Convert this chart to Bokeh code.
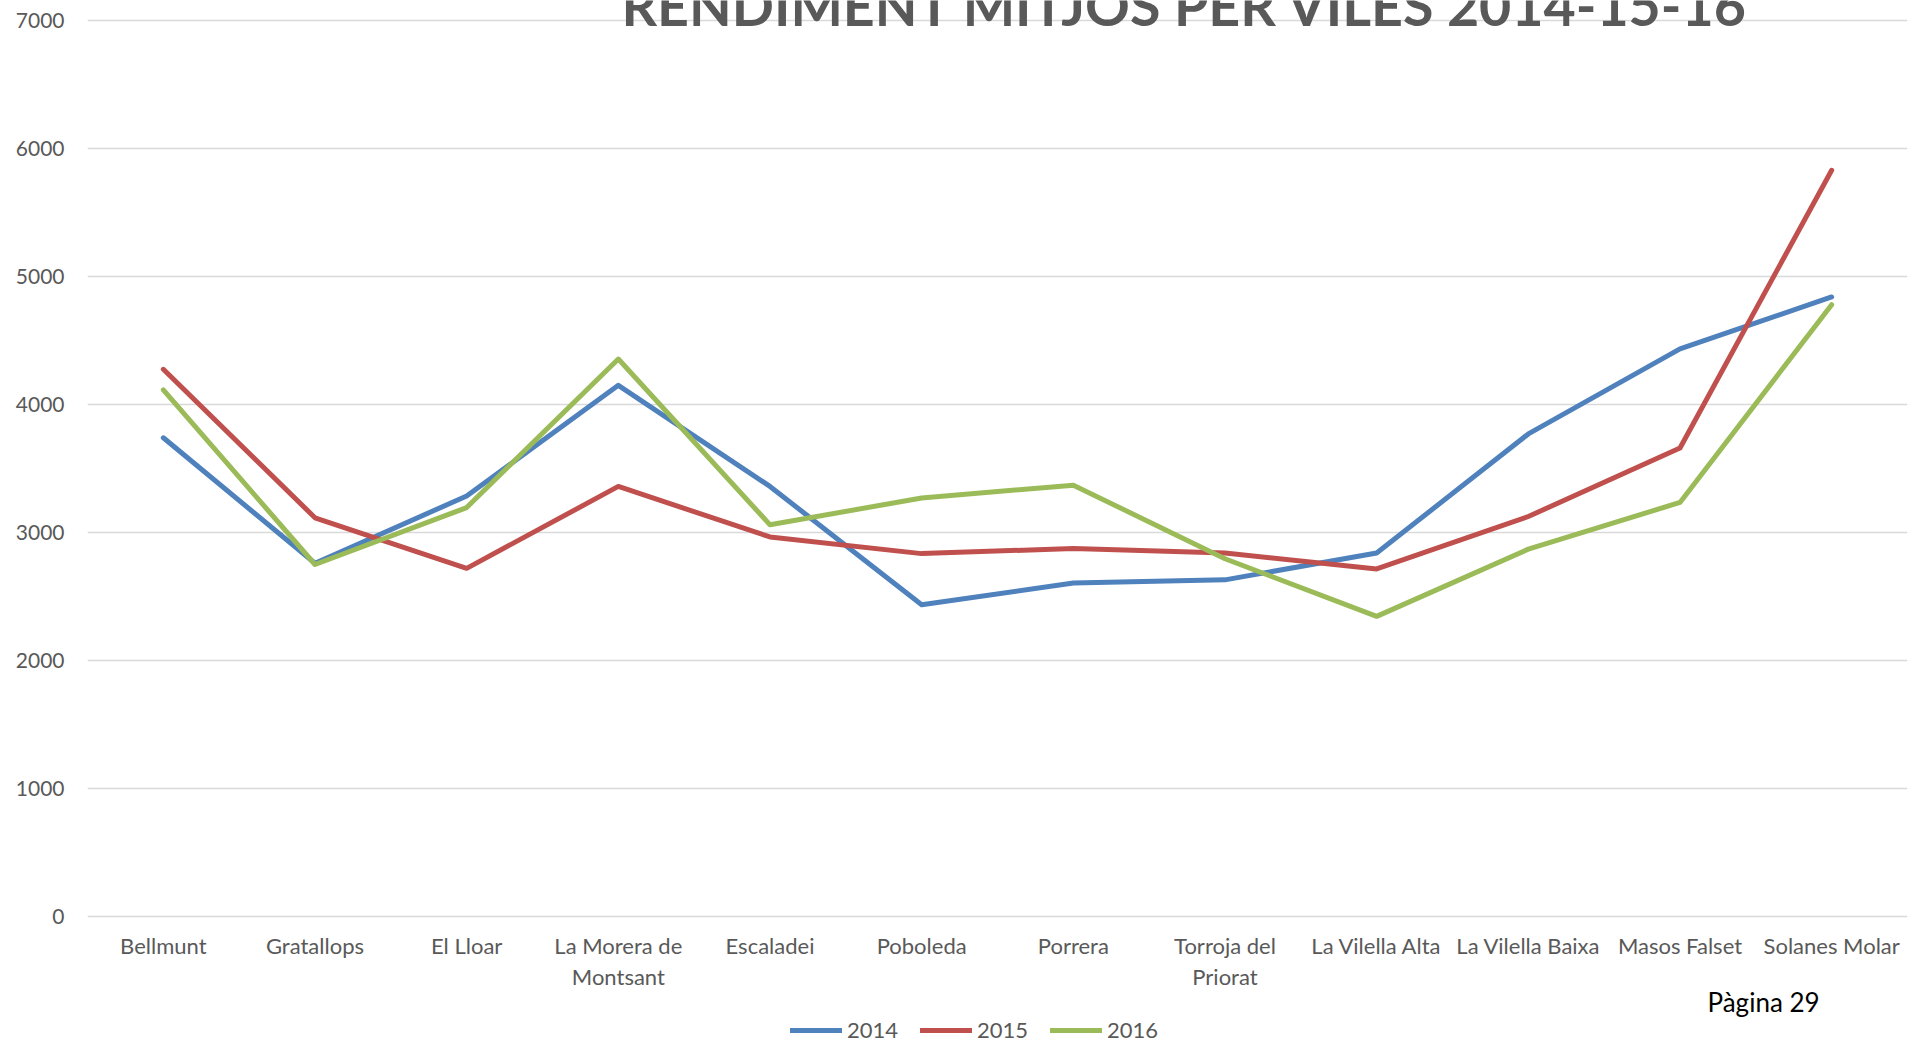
from bokeh.plotting import figure
from bokeh.models import Range1d, FactorRange, FixedTicker, Legend, LegendItem
from bokeh.core.properties import value
from bokeh.embed import file_html
from bokeh.resources import INLINE

# ---- data ----
villages = ["Bellmunt", "Gratallops", "El Lloar", "La Morera de\nMontsant", "Escaladei",
            "Poboleda", "Porrera", "Torroja del\nPriorat", "La Vilella Alta",
            "La Vilella Baixa", "Masos Falset", "Solanes Molar"]
y2014 = [3740, 2760, 3285, 4150, 3360, 2435, 2605, 2630, 2840, 3770, 4435, 4840]
y2015 = [4275, 3115, 2720, 3360, 2965, 2835, 2875, 2840, 2715, 3125, 3660, 5830]
y2016 = [4115, 2750, 3195, 4355, 3060, 3270, 3370, 2795, 2345, 2870, 3235, 4780]
series_names = ["2014", "2015", "2016"]
y_ticks = [0, 1000, 2000, 3000, 4000, 5000, 6000, 7000]
title_text = "RENDIMENT MITJOS PER VILES 2014-15-16"
page_text = "Pàgina 29"

colors = ["#4F81BD", "#C0504D", "#9BBB59"]
FONT = "Lato"
GREY = "#595959"

W, H = 1912, 1045
left, right = 87, 5
ZERO_Y = 916                         # page pixel row of the value 0
px_per_unit = 0.128                  # 1000 units = 128 px
y_top = ZERO_Y / px_per_unit
y_bot = -(H - ZERO_Y) / px_per_unit
cat_w = (W - left - right) / len(villages)

p = figure(width=W, height=H, x_range=FactorRange(*villages, range_padding=0),
           y_range=Range1d(y_bot, y_top), output_backend="svg", toolbar_location=None,
           min_border_left=left, min_border_right=right, min_border_top=0,
           min_border_bottom=0)
p.outline_line_color = None
p.background_fill_color = "white"
p.border_fill_color = "white"

p.xgrid.grid_line_color = None
p.ygrid.grid_line_color = "#D9D9D9"
p.ygrid.grid_line_width = 1.3
p.yaxis.ticker = FixedTicker(ticks=y_ticks)
p.xaxis.fixed_location = 0

for ax in (p.xaxis[0], p.yaxis[0]):
    ax.axis_line_color = None
    ax.major_tick_line_color = None
    ax.minor_tick_line_color = None
    ax.major_tick_out = 0
    ax.major_tick_in = 0
    ax.major_label_text_font = FONT
    ax.major_label_text_color = GREY
p.xaxis.major_label_text_font_size = "22px"
p.yaxis.major_label_text_font_size = "21px"
p.yaxis.major_label_standoff = 23
p.xaxis.major_label_standoff = 15
p.xaxis.major_label_text_line_height = 1.18

renderers = []
for name, vals, c in zip(series_names, [y2014, y2015, y2016], colors):
    r = p.line(x=villages, y=vals, line_color=c, line_width=5, line_cap="round",
               line_join="round")
    renderers.append((name, r))

# Title: partly cut off by the top edge, as in the reference
p.text(x=[(1185 - left) / cat_w], y=[(ZERO_Y - 3.5) / px_per_unit], text=[title_text],
       text_align="center", text_baseline="middle", text_font=value(FONT),
       text_font_style="bold", text_font_size=value("55.5px"), text_color=GREY)

# page number
p.text(x=[(1707 - left) / cat_w], y=[(ZERO_Y - 1001) / px_per_unit], text=[page_text],
       text_align="left", text_baseline="middle", text_font=value(FONT),
       text_font_size=value("26px"), text_color="black")

legend = Legend(items=[LegendItem(label=n, renderers=[r]) for n, r in renderers],
                orientation="horizontal", location=(790 - left, 2),
                glyph_width=52, glyph_height=24, label_standoff=5, spacing=22,
                padding=0, margin=0, border_line_alpha=0, background_fill_alpha=0,
                label_text_font=FONT, label_text_font_size="22px",
                label_text_color=GREY)
p.add_layout(legend, "center")

open("out.html", "w").write(file_html(p, INLINE))
